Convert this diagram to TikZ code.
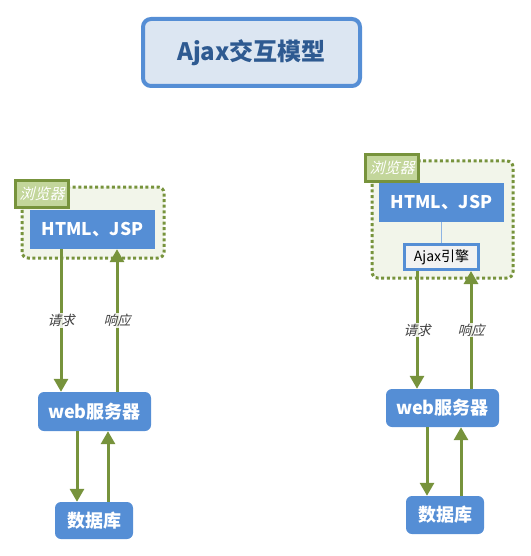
\documentclass[tikz,border=0pt]{standalone}
\usepackage{fontspec}
\setmainfont{Noto Sans CJK SC}[AutoFakeSlant=0.25]
\usetikzlibrary{arrows.meta}
\definecolor{boxblue}{HTML}{558ED5}
\definecolor{titlefill}{HTML}{DCE6F2}
\definecolor{titletext}{HTML}{2E5A91}
\definecolor{olive}{HTML}{77933C}
\definecolor{lblfill}{HTML}{C3D69B}
\definecolor{contfill}{HTML}{F2F5EA}
\definecolor{ajaxfill}{HTML}{F2F2F2}
\definecolor{linkblue}{HTML}{8EB4E3}
\definecolor{grytext}{HTML}{404040}
\tikzset{
  titlebox/.style={draw=boxblue, line width=4pt, fill=titlefill, rounded corners=8pt,
    minimum width=217pt, minimum height=67pt, text=titletext, font=\fontsize{24}{27}\selectfont\bfseries},
  container/.style={draw=olive, fill=contfill, line width=3pt, dash pattern=on 3pt off 2.6pt, rounded corners=6pt},
  lblbox/.style={draw=olive, fill=lblfill, line width=3pt, minimum width=53pt, minimum height=27pt,
    text=white, font=\fontsize{15}{17}\selectfont\itshape, inner sep=0pt},
  htmlbox/.style={fill=boxblue, minimum width=125pt, minimum height=39pt, text=white,
    font=\fontsize{17.5}{19}\selectfont\bfseries, inner sep=0pt},
  srvbox/.style={fill=boxblue, rounded corners=6pt, text=white,
    font=\fontsize{18}{20}\selectfont\bfseries, inner sep=0pt},
  ajaxbox/.style={draw=boxblue, fill=ajaxfill, line width=3pt, minimum width=74pt, minimum height=25pt,
    text=black, font=\fontsize{14}{16}\selectfont, inner sep=0pt},
  flow/.style={draw=olive, line width=3pt, -{Triangle[width=14pt,length=13pt]}},
  flowlbl/.style={fill=white, fill opacity=0.85, text opacity=1, text=grytext,
    font=\fontsize{13.5}{15}\selectfont\itshape, inner sep=1pt, inner xsep=0pt}
}
\begin{document}
\begin{tikzpicture}[x=1pt,y=-1pt]
\useasboundingbox (0,0) rectangle (530,556);
% title
\node[titlebox] (title) at (251.5,52.5) {Ajax交互模型};

% ---------- left ----------
\draw[container] (22,187) rectangle (164,258);
\node[lblbox] (lblL) at (42,194) {浏览器};
\node[htmlbox] (htmlL) at (92.5,229.5) {HTML、JSP};
\node[srvbox, minimum width=113pt, minimum height=39pt] (webL) at (94.5,411.5) {web服务器};
\node[srvbox, minimum width=78pt, minimum height=37pt] (dbL) at (94,520.5) {数据库};

\draw[flow] ([xshift=-31.5pt]htmlL.south) -- ([xshift=-31.5pt]htmlL.south |- webL.north)
  node[flowlbl, pos=0.5] (reqL) {请求};
\draw[flow] ([xshift=24.5pt]htmlL.south |- webL.north) -- ([xshift=24.5pt]htmlL.south)
  node[flowlbl, pos=0.5] (resL) {响应};
\draw[flow] ([xshift=-17.5pt]webL.south) -- ([xshift=-17.5pt]webL.south |- dbL.north);
\draw[flow] ([xshift=13.5pt]webL.south |- dbL.north) -- ([xshift=13.5pt]webL.south);

% ---------- right ----------
\draw[container] (372,161) rectangle (513,278);
\node[lblbox] (lblR) at (392,168) {浏览器};
\node[htmlbox] (htmlR) at (441.5,202.5) {HTML、JSP};
\node[ajaxbox] (ajaxR) at (441.5,257) {Ajax引擎};
\draw[linkblue, line width=1.5pt] (htmlR.south) -- (ajaxR.north);
\node[srvbox, minimum width=113pt, minimum height=38pt] (webR) at (442.5,408) {web服务器};
\node[srvbox, minimum width=78pt, minimum height=38pt] (dbR) at (445,515) {数据库};

\draw[flow] ([xshift=-24.5pt]ajaxR.south) -- ([xshift=-24.5pt]ajaxR.south |- webR.north)
  node[flowlbl, pos=0.5] (reqR) {请求};
\draw[flow] ([xshift=29.5pt]ajaxR.south |- webR.north) -- ([xshift=29.5pt]ajaxR.south)
  node[flowlbl, pos=0.5] (resR) {响应};
\draw[flow] ([xshift=-15.5pt]webR.south) -- ([xshift=-15.5pt]webR.south |- dbR.north);
\draw[flow] ([xshift=18.5pt]webR.south |- dbR.north) -- ([xshift=18.5pt]webR.south);
\end{tikzpicture}
\end{document}
